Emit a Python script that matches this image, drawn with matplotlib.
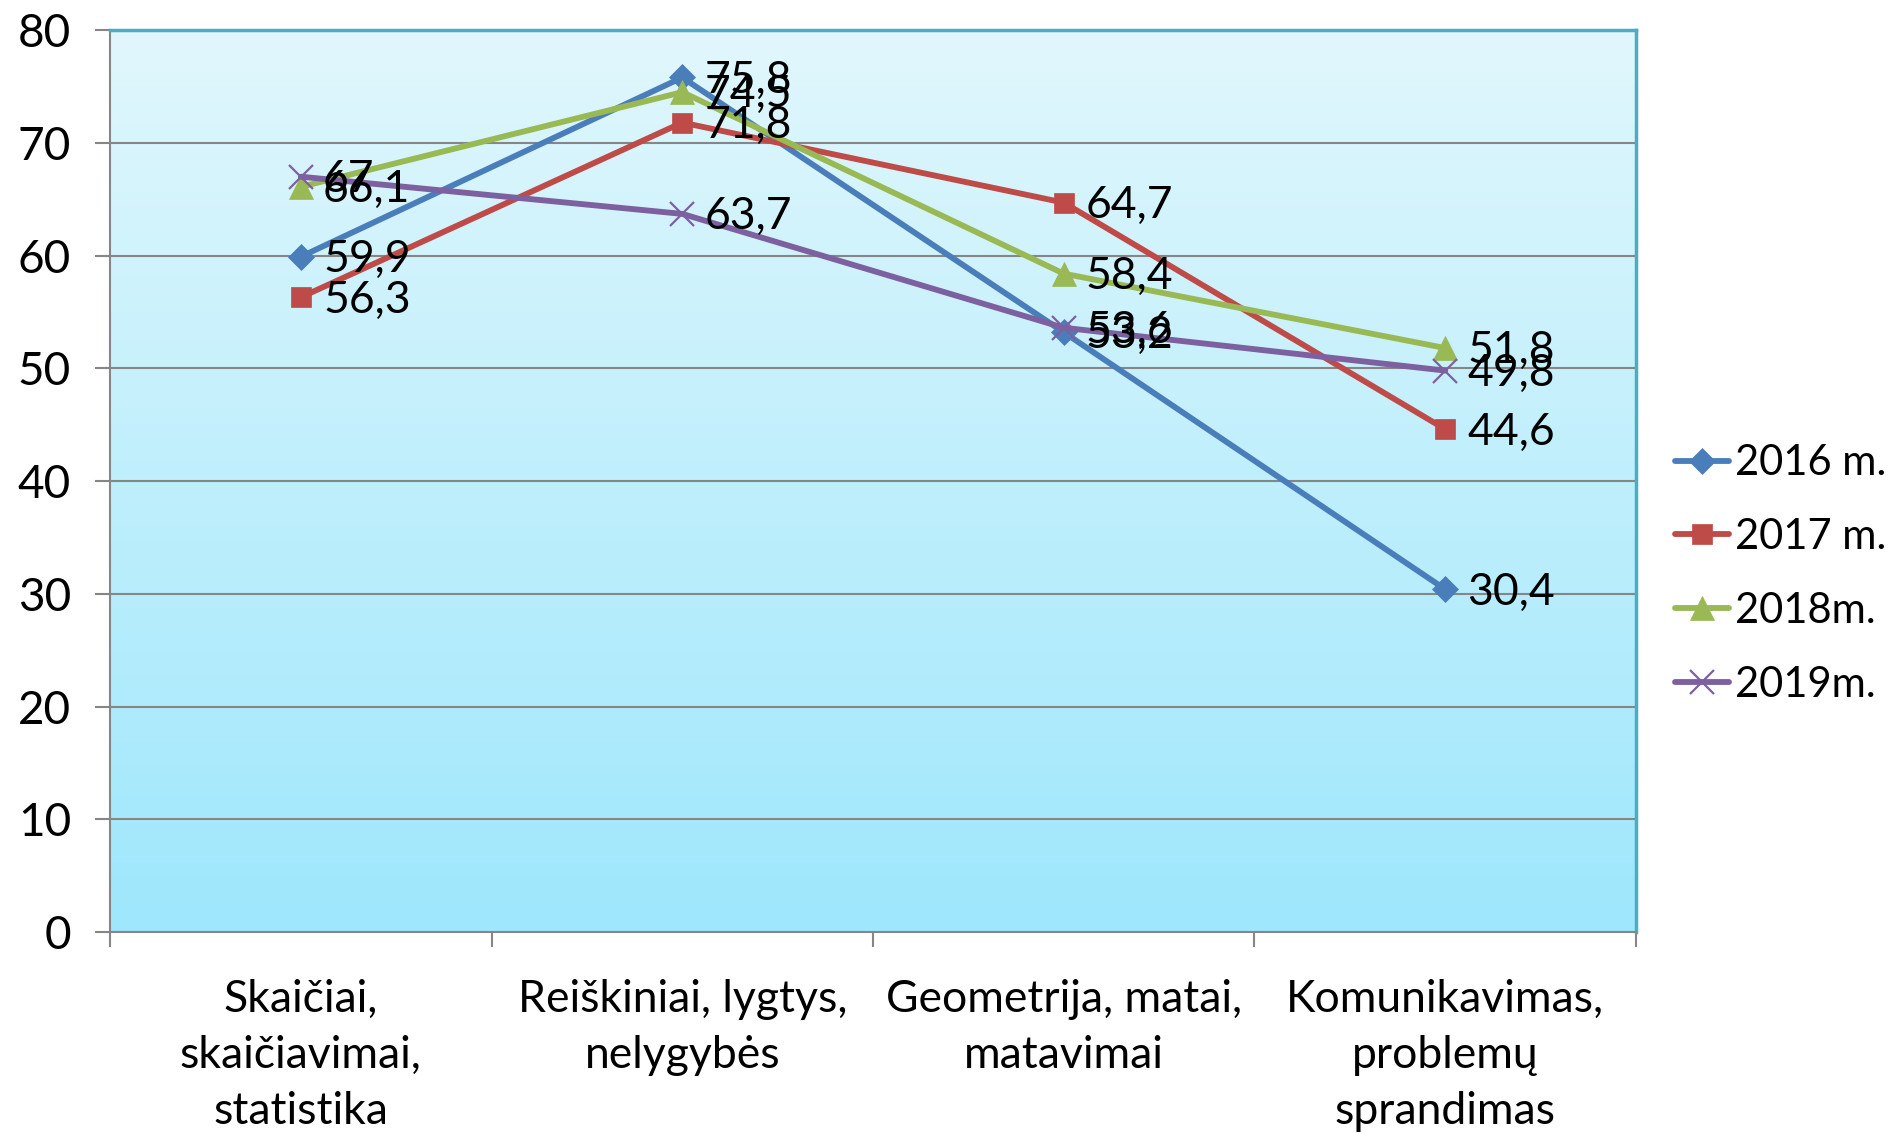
import matplotlib
matplotlib.use('Agg')
import matplotlib.pyplot as plt
import numpy as np

categories = ['Skaičiai,\nskaičiavimai,\nstatistika',
              'Reiškiniai, lygtys,\nnelygybės',
              'Geometrija, matai,\nmatavimai',
              'Komunikavimas,\nproblemų\nsprandimas']
series_names = ['2016 m.', '2017 m.', '2018m.', '2019m.']
v2016 = [59.9, 75.8, 53.2, 30.4]
v2017 = [56.3, 71.8, 64.7, 44.6]
v2018 = [66.1, 74.5, 58.4, 51.8]
v2019 = [67, 63.7, 53.6, 49.8]
yticks = [0, 10, 20, 30, 40, 50, 60, 70, 80]

colors = ['#4A7EBB', '#BE4B48', '#98B954', '#7D60A0']
markers = ['D', 's', '^', 'x']
msizes = [13, 15, 17, 17]

plt.rcParams['font.family'] = ['Lato', 'DejaVu Sans']

fig = plt.figure(figsize=(18.97, 11.33), dpi=100)
ax = fig.add_axes([0.058, 0.1774, 0.8044, 0.796])

x = np.arange(len(categories))
ax.set_xlim(-0.5, len(categories) - 0.5)
ax.set_ylim(0, 80)

# gradient background
grad = np.linspace(0, 1, 256).reshape(-1, 1)
top = np.array([0xE1, 0xF7, 0xFD]) / 255
bot = np.array([0x9E, 0xE7, 0xFC]) / 255
img = top * (1 - grad[..., None]) + bot * grad[..., None]
ax.imshow(img, extent=[-0.5, len(categories) - 0.5, 0, 80], aspect='auto', zorder=0)

for yv in yticks[1:-1]:
    ax.axhline(yv, color='#868686', linewidth=1.5, zorder=1)

all_vals = [v2016, v2017, v2018, v2019]
for vals, name, c, m, ms in zip(all_vals, series_names, colors, markers, msizes):
    ax.plot(x, vals, color=c, linewidth=4.2, marker=m, markersize=ms,
            markeredgewidth=1.6 if m == 'x' else 0.5, markeredgecolor=c,
            label=name, zorder=3, solid_capstyle='round')
    for xi, v in zip(x, vals):
        lbl = ('%g' % v).replace('.', ',')
        ax.annotate(lbl, (xi, v), xytext=(16, -2), textcoords='offset points',
                    ha='left', va='center', fontsize=32, color='black', zorder=4)

ax.set_yticks(yticks)
ax.set_yticklabels([str(t) for t in yticks], fontsize=33)
ax.set_xticks(np.arange(-0.5, len(categories), 1.0))
ax.set_xticklabels([])
ax.set_xticks(x, minor=True)
ax.set_xticklabels(categories, minor=True, fontsize=32, linespacing=1.45)
ax.tick_params(axis='x', which='minor', length=0, pad=34)
ax.tick_params(axis='x', which='major', length=11, width=1.5, color='#868686')
ax.tick_params(axis='y', length=11, width=1.5, color='#868686', pad=17)

for s in ['left', 'bottom']:
    ax.spines[s].set_color('#868686')
    ax.spines[s].set_linewidth(1.5)
for s in ['top', 'right']:
    ax.spines[s].set_color('#4BACC6')
    ax.spines[s].set_linewidth(2.5)

ax.legend(loc='center left', bbox_to_anchor=(1.001, 0.397), frameon=False,
          fontsize=30, handlelength=1.3, handletextpad=0.15, labelspacing=0.86)

plt.savefig('out.png', dpi=100)
